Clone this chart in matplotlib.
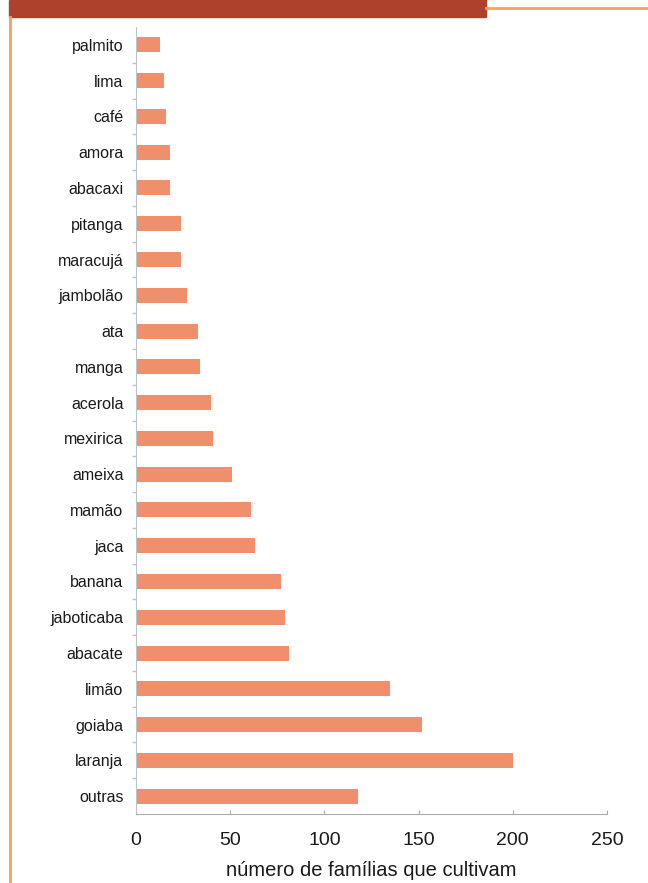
import matplotlib
matplotlib.use("Agg")
from matplotlib import pyplot as plt
from matplotlib.patches import Rectangle
from matplotlib.lines import Line2D

# fruit species, top to bottom as drawn
frutas = [
    "palmito", "lima", "café", "amora", "abacaxi", "pitanga", "maracujá",
    "jambolão", "ata", "manga", "acerola", "mexirica", "ameixa", "mamão",
    "jaca", "banana", "jaboticaba", "abacate", "limão", "goiaba", "laranja",
    "outras",
]
familias = [
    13, 15, 16, 18, 18, 24, 24,
    27, 33, 34, 40, 41, 51, 61,
    63, 77, 79, 81, 135, 152, 200,
    118,
]
xticks = [0, 50, 100, 150, 200, 250]

bar_color = "#EF8F6C"
axis_color = "#B8C4CC"
frame_color = "#F2A064"
banner_color = "#AE412B"

plt.rcParams["font.family"] = ["Liberation Sans", "DejaVu Sans"]

fig = plt.figure(figsize=(6.48, 8.83), dpi=100)
fig.patch.set_facecolor("white")

# page decoration: banner and orange frame lines
fig.patches.append(Rectangle((9 / 648, 1 - 17 / 883), 477 / 648, 17 / 883,
                             transform=fig.transFigure, color=banner_color))
fig.lines.append(Line2D([486 / 648, 1], [1 - 7.5 / 883, 1 - 7.5 / 883],
                        transform=fig.transFigure, color=frame_color, lw=2))
fig.lines.append(Line2D([10 / 648, 10 / 648], [0, 1 - 17 / 883],
                        transform=fig.transFigure, color=frame_color, lw=2))

ax = fig.add_axes([136 / 648, 1 - 814 / 883, 471 / 648, 787 / 883])
pos = list(range(len(frutas)))
ax.barh(pos, familias, height=0.42, color=bar_color)
ax.set_ylim(len(frutas) - 0.5, -0.5)
ax.set_xlim(0, 250)

ax.set_yticks(pos)
ax.set_yticklabels(frutas, fontsize=11.5, color="#1a1a1a")
ax.tick_params(axis="y", length=0, pad=9)
ax.set_yticks([p + 0.5 for p in pos[:-1]], minor=True)
ax.tick_params(axis="y", which="minor", length=3, color=axis_color, width=1)

ax.set_xticks(xticks)
ax.set_xticklabels([str(t) for t in xticks], fontsize=14, color="#1a1a1a")
ax.tick_params(axis="x", direction="in", length=3, color="#AAAAAA", pad=13)
ax.set_xlabel("número de famílias que cultivam", fontsize=14.5,
              color="#1a1a1a", labelpad=8.5)

for side in ["top", "right"]:
    ax.spines[side].set_visible(False)
ax.spines["left"].set_color(axis_color)
ax.spines["bottom"].set_color("#AAAAAA")

fig.savefig("out.png", dpi=100)
